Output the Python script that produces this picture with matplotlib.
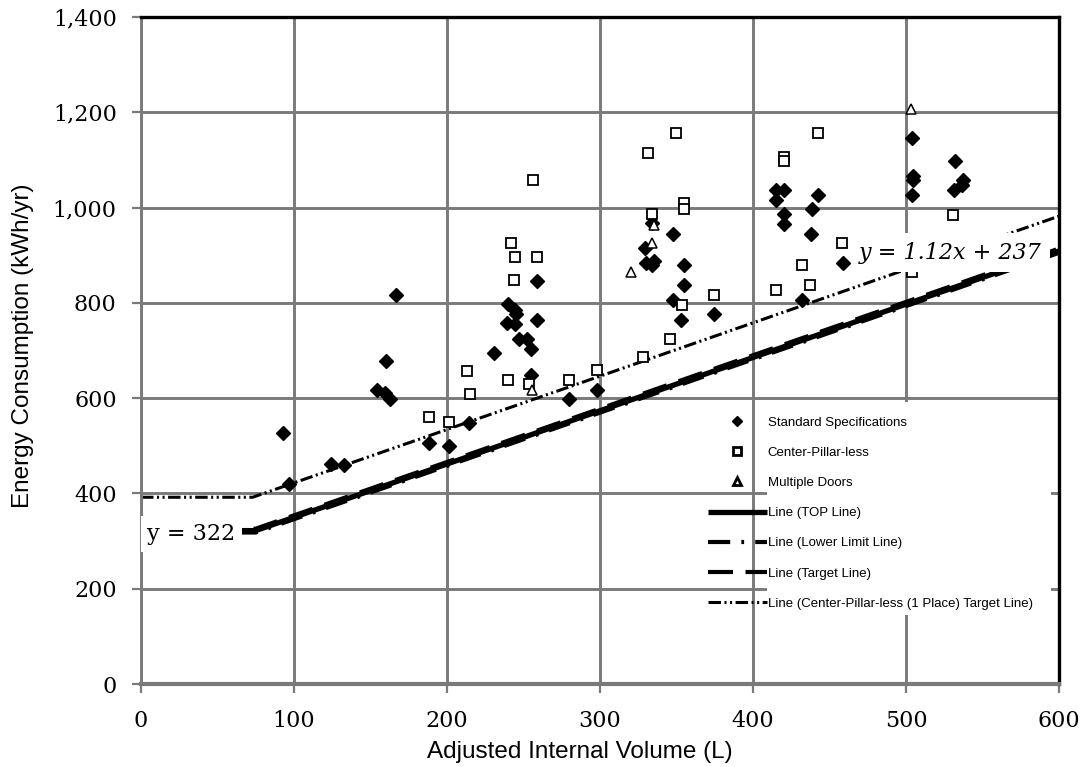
import numpy as np
import matplotlib
matplotlib.use("Agg")
from matplotlib import pyplot as plt
from matplotlib.patches import Rectangle
from matplotlib.ticker import FuncFormatter

# ---- data ----
std_x = [92.6, 96.7, 124, 132.7, 154, 159.5, 163, 160, 166.7, 188.4, 201, 214.6, 231, 239,
         240, 244.4, 245, 244.4, 247, 252.5, 254.7, 254.7, 258.6, 258.6, 280, 298, 329.4, 330,
         334, 335, 333.8, 347.5, 355, 355, 347.5, 352.7, 374.5, 415, 420, 415, 420, 420,
         442.7, 438.4, 437.7, 459, 431.8, 503.7, 504.5, 504.5, 503.7, 532, 537.5, 536.4, 531.4]
std_y = [526, 420, 461, 460, 618, 610, 598, 677, 816, 505, 500, 547, 695, 757,
         797, 785, 776, 755, 725, 725, 704, 648, 846, 765, 599, 618, 916, 884,
         879, 887, 967, 944, 879, 837, 806, 765, 776, 1037, 1037, 1016, 986, 965,
         1026, 996, 944, 883, 806, 1146, 1066, 1058, 1026, 1097, 1058, 1047, 1037]

cpl_x = [188.4, 201, 212.9, 215, 240, 241.8, 244.4, 259, 243.8, 253.8, 256, 280, 298, 328.3,
         331.6, 333.8, 346, 349.7, 353.4, 354.9, 354.9, 374.5, 415, 420, 420, 431.8, 437.3,
         442.7, 458, 503.7, 531]
cpl_y = [560, 549, 658, 609, 638, 926, 896, 896, 848, 630, 1058, 638, 659, 687,
         1115, 986, 725, 1157, 795, 1009, 997, 816, 827, 1107, 1097, 879, 837,
         1157, 925, 864, 984]

multi_x = [255.3, 320, 333.8, 335, 503]
multi_y = [617, 865, 925, 963, 1207]

# line breakpoints
top_x = [0, 75, 600]
top_y = [322, 322, 909]
lower_y = [318, 318, 905]
target_y = [326, 326, 914]
cpl_line_x = [0, 73, 600]
cpl_line_y = [392, 392, 982]

labels = ["Standard Specifications", "Center-Pillar-less", "Multiple Doors",
          "Line (TOP Line)", "Line (Lower Limit Line)", "Line (Target Line)",
          "Line (Center-Pillar-less (1 Place) Target Line)"]

GREY = "#7a7a7a"
SERIF = "DejaVu Serif"
SANS = "Liberation Sans"

plt.rcParams["lines.scale_dashes"] = False

fig = plt.figure(figsize=(10.88, 7.67), dpi=100)
ax = fig.add_axes([0.1296, 0.1082, 0.8437, 0.8696])

ax.set_xlim(0, 600)
ax.set_ylim(0, 1400)
ax.set_xticks(range(0, 601, 100))
ax.set_yticks(range(0, 1401, 200))
ax.yaxis.set_major_formatter(FuncFormatter(lambda v, p: f"{int(v):,}"))
ax.grid(True, color=GREY, linewidth=2.1)
ax.set_axisbelow(True)

for side in ["top", "right"]:
    ax.spines[side].set_color("black")
    ax.spines[side].set_linewidth(2.4)
ax.spines["left"].set_color(GREY)
ax.spines["left"].set_linewidth(2.1)
ax.spines["bottom"].set_color(GREY)
ax.spines["bottom"].set_linewidth(3.0)

ax.tick_params(axis="both", direction="out", length=6.5, width=1.6, color=GREY,
               labelsize=16)
ax.tick_params(axis="y", pad=11)
ax.tick_params(axis="x", pad=12)
for lab in ax.get_xticklabels() + ax.get_yticklabels():
    lab.set_fontfamily(SERIF)

# white background behind the legend text (grid hidden there)
ax.add_patch(Rectangle((409, 145), 186, 447, facecolor="white", edgecolor="none", zorder=1))

# lines
ax.plot(top_x, top_y, color="black", lw=3.8, solid_capstyle="butt", zorder=2, label=labels[3])
ax.plot(top_x, lower_y, color="black", lw=3.0, dashes=(16, 8, 2, 8), zorder=2, label=labels[4])
ax.plot(top_x, target_y, color="black", lw=3.0, dashes=(18, 9), zorder=2, label=labels[5])
ax.plot(cpl_line_x, cpl_line_y, color="black", lw=2.2,
        dashes=(9, 2.5, 1.5, 2.5, 1.5, 2.5), zorder=2, label=labels[6])

# points
ax.plot(std_x, std_y, ls="none", marker="D", ms=7.0, color="black", zorder=3, label=labels[0])
ax.plot(cpl_x, cpl_y, ls="none", marker="s", ms=7.2, mfc="white", mec="black", mew=1.3,
        zorder=3, label=labels[1])
ax.plot(multi_x, multi_y, ls="none", marker="^", ms=7.5, mfc="white", mec="black", mew=1.1,
        zorder=3, label=labels[2])

# equation labels
ax.text(33, 315, "y = 322", fontsize=16, family=SERIF, ha="center", va="center", zorder=4,
        bbox=dict(facecolor="white", edgecolor="none", pad=5))
ax.text(529, 905, "y = 1.12x + 237", fontsize=16, family=SERIF, style="italic",
        ha="center", va="center", zorder=4,
        bbox=dict(facecolor="white", edgecolor="none", pad=6))

# legend
handles, hl = ax.get_legend_handles_labels()
order = [hl.index(l) for l in labels]
leg = ax.legend([handles[i] for i in order], [hl[i] for i in order],
                loc="upper left", bbox_to_anchor=(0.6507, 0.457), bbox_transform=fig.transFigure,
                frameon=False, borderpad=0, borderaxespad=0, handlelength=4.47,
                handletextpad=0.05, labelspacing=1.36, markerscale=0.75,
                prop={"family": SANS, "size": 9.5})
leg.set_zorder(5)
# bolder marker outlines in the legend, like the original
for h in leg.legend_handles[1:3]:
    h.set_markeredgewidth(2.0)

ax.set_xlabel("Adjusted Internal Volume (L)", fontsize=17.5, family=SANS)
ax.set_ylabel("Energy Consumption (kWh/yr)", fontsize=17.5, family=SANS)
ax.xaxis.set_label_coords(0.478, -0.085)
ax.yaxis.set_label_coords(-0.1166, 0.507)

fig.savefig("out.png", dpi=100)
